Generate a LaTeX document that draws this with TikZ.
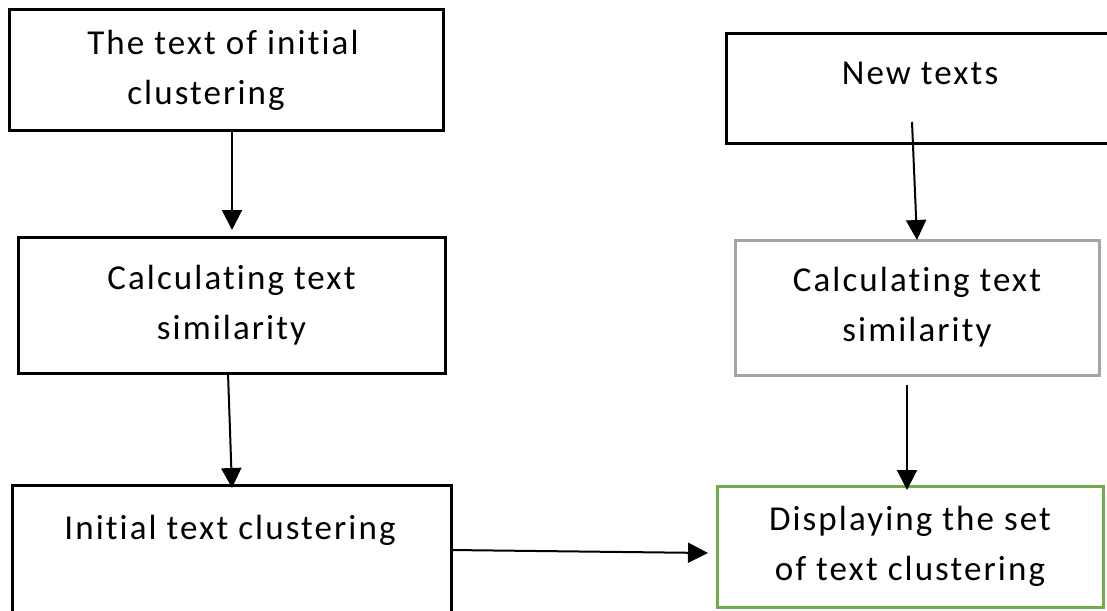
\documentclass[tikz,border=0pt]{standalone}
\usepackage{fontspec}
\setmainfont{Carlito}[LetterSpace=6,Ligatures=NoCommon]
\usetikzlibrary{arrows.meta}
\begin{document}
\begin{tikzpicture}[x=1pt,y=-1pt,
  box/.style={draw=black,line width=3pt,inner sep=0pt,outer sep=0pt,align=center,
    font=\fontsize{35}{50}\selectfont},
  txt/.style={inner sep=0pt,font=\fontsize{35}{50}\selectfont},
  arr/.style={draw=black,line width=2pt,-{Triangle[width=20pt,length=20pt]}}]
\useasboundingbox (0,0) rectangle (1107,610);
\clip (0,0) rectangle (1107,610);
\fill[white] (0,0) rectangle (1107,610);
% left column
\node[box,minimum width=434pt,minimum height=121pt] (b1) at (226,70) {\hspace*{-6pt}The text of initial\\clustering\hspace*{40pt}};
\node[box,minimum width=427pt,minimum height=136pt] (b2) at (231.5,305) {Calculating text\\similarity};
\node[box,minimum width=439pt,minimum height=145pt] (b3) at (231.5,557.5) {};
\node[txt] (t3) at (230,530) {Initial text clustering};
% right column
\node[box,minimum width=394pt,minimum height=109pt] (b4) at (923,88.5) {};
\node[txt] (t4) at (920,73) {New texts};
\node[box,draw={rgb,255:red,166;green,166;blue,166},minimum width=364pt,minimum height=135pt] (b5) at (917,307.5) {Calculating text\\similarity};
\node[box,draw={rgb,255:red,112;green,173;blue,71},minimum width=386pt,minimum height=121pt] (b6) at (910,546.5) {Displaying the set\\of text clustering};
% connectors
\draw[arr] ([xshift=6pt]b1.south) -- ([xshift=0.5pt,yshift=7pt]b2.north);
\draw[arr] ([xshift=-3.5pt]b2.south) -- ([xshift=0.5pt,yshift=-3pt]b3.north);
\draw[arr] ([yshift=7.5pt]b3.east) -- ([xshift=-9pt,yshift=-6.5pt]b6.west);
\draw[arr] ([xshift=-11pt,yshift=21pt]b4.south) -- (b5.north);
\draw[arr] ([xshift=-10pt,yshift=-10pt]b5.south) -- ([xshift=-3pt,yshift=-4pt]b6.north);
\end{tikzpicture}
\end{document}
